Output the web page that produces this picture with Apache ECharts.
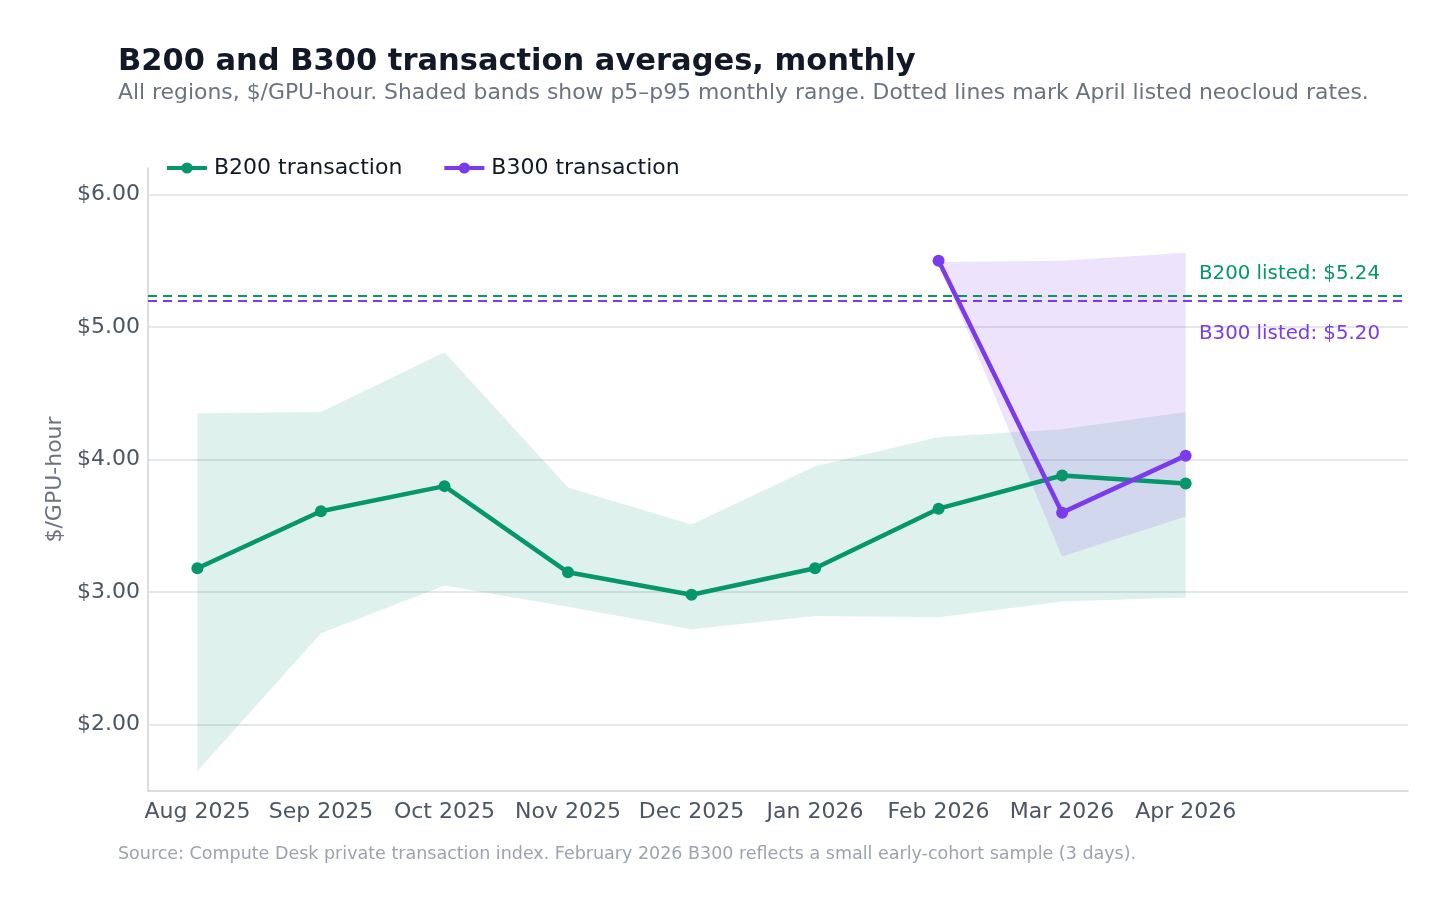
<!DOCTYPE html>
<html>
<head>
<meta charset="utf-8">
<script src="https://cdn.jsdelivr.net/npm/echarts@6/dist/echarts.min.js"></script>
<style>html,body{margin:0;padding:0;background:#fff;}#c{width:1456px;height:909px;}</style>
</head>
<body>
<div id="c"></div>
<script>
const months = ['Aug 2025','Sep 2025','Oct 2025','Nov 2025','Dec 2025','Jan 2026','Feb 2026','Mar 2026','Apr 2026'];
const b200Avg = [3.18, 3.61, 3.80, 3.15, 2.98, 3.18, 3.63, 3.88, 3.82];
const b200P5  = [1.65, 2.69, 3.05, 2.89, 2.72, 2.82, 2.81, 2.93, 2.96];
const b200P95 = [4.35, 4.36, 4.81, 3.79, 3.51, 3.95, 4.17, 4.23, 4.36];
const b300Idx = [6, 7, 8];
const b300Avg = [5.50, 3.60, 4.03];
const b300P5  = [5.49, 3.27, 3.57];
const b300P95 = [5.49, 5.50, 5.56];
const listedNames = ['B200 listed', 'B300 listed'];
const listedValues = [5.24, 5.20];
const yTicks = [2, 3, 4, 5, 6];

const GREEN = '#059669', PURPLE = '#7c3aed';
const FONT = 'DejaVu Sans';

function bandSeries(name, xs, lo, hi, fill) {
  const data = xs.map((x, i) => [x, lo[i], hi[i]]);
  return {
    type: 'custom', name: name, silent: true, z: 1,
    data: data,
    encode: { x: 0, y: [1, 2] },
    renderItem: function (params, api) {
      if (params.dataIndex !== 0) return null;
      const top = data.map(d => api.coord([d[0], d[2]]));
      const bot = data.map(d => api.coord([d[0], d[1]])).reverse();
      return { type: 'polygon', shape: { points: top.concat(bot) }, style: { fill: fill } };
    }
  };
}

const chart = echarts.init(document.getElementById('c'), null, { renderer: 'canvas' });
chart.setOption({
  animation: false,
  textStyle: { fontFamily: FONT },
  title: [
    { text: 'B200 and B300 transaction averages, monthly', left: 113, top: 39,
      textStyle: { fontFamily: FONT, fontSize: 30.5, fontWeight: 'bold', color: '#111827', lineHeight: 36 } },
    { text: 'All regions, $/GPU-hour. Shaded bands show p5\u2013p95 monthly range. Dotted lines mark April listed neocloud rates.',
      left: 113, top: 75, textStyle: { fontFamily: FONT, fontSize: 21.9, fontWeight: 'normal', color: '#6b7280', lineHeight: 26 } },
    { text: 'Source: Compute Desk private transaction index. February 2026 B300 reflects a small early-cohort sample (3 days).',
      left: 113, top: 839, textStyle: { fontFamily: FONT, fontSize: 17.5, fontWeight: 'normal', color: '#9ca3af', lineHeight: 21 } }
  ],
  legend: {
    left: 160, top: 152, itemWidth: 40, itemHeight: 14, itemGap: 40,
    data: ['B200 transaction', 'B300 transaction'],
    lineStyle: { width: 4 },
    textStyle: { fontFamily: FONT, fontSize: 22, color: '#111827', padding: [0, 0, 0, 2] }
  },
  grid: { left: 148, right: 48, top: 168, bottom: 118 },
  xAxis: {
    type: 'value', min: -0.4, max: 9.8,
    axisLine: { show: true, onZero: false, lineStyle: { color: '#cfd3d8', width: 1.5 } },
    axisTick: { show: false, customValues: months.map((m, i) => i) },
    splitLine: { show: false },
    axisLabel: {
      customValues: months.map((m, i) => i),
      formatter: v => months[Math.round(v)] || '',
      fontFamily: FONT, fontSize: 22, color: '#4b5563', margin: 10
    }
  },
  yAxis: {
    type: 'value', min: 1.5, max: 6.2,
    name: '$/GPU-hour', nameLocation: 'middle', nameRotate: 90, nameGap: 74,
    nameTextStyle: { fontFamily: FONT, fontSize: 22, color: '#6b7280' },
    axisLine: { show: true, onZero: false, lineStyle: { color: '#cfd3d8', width: 1.5 } },
    axisTick: { show: false, customValues: yTicks },
    splitLine: { show: true, lineStyle: { color: '#dde0e4', width: 1.5 } },
    axisLabel: {
      customValues: yTicks,
      formatter: v => '$' + v.toFixed(2),
      fontFamily: FONT, fontSize: 22, color: '#4b5563', margin: 8, padding: [5, 0, 0, 0]
    }
  },
  series: [
    bandSeries('B200 band', months.map((m, i) => i), b200P5, b200P95, 'rgba(5,150,105,0.13)'),
    bandSeries('B300 band', b300Idx, b300P5, b300P95, 'rgba(124,58,237,0.14)'),
    {
      name: 'B200 transaction', type: 'line', z: 3,
      data: months.map((m, i) => [i, b200Avg[i]]),
      symbol: 'circle', symbolSize: 12,
      lineStyle: { color: GREEN, width: 4.5 }, itemStyle: { color: GREEN },
      markLine: {
        silent: true, symbol: 'none', label: { show: false },
        lineStyle: { color: GREEN, width: 2, type: [9, 6] },
        data: [{ yAxis: listedValues[0] }]
      }
    },
    {
      name: 'B300 transaction', type: 'line', z: 4,
      data: b300Idx.map((x, i) => [x, b300Avg[i]]),
      symbol: 'circle', symbolSize: 12,
      lineStyle: { color: PURPLE, width: 4.5 }, itemStyle: { color: PURPLE },
      markLine: {
        silent: true, symbol: 'none', label: { show: false },
        lineStyle: { color: PURPLE, width: 2, type: [9, 6] },
        data: [{ yAxis: listedValues[1] }]
      }
    },
    {
      type: 'custom', name: 'listed labels', silent: true, z: 5,
      data: listedValues.map((v, i) => [8.1, v, i]),
      encode: { x: 0, y: 1 },
      renderItem: function (params, api) {
        const i = api.value(2);
        const p = api.coord([api.value(0), api.value(1)]);
        return {
          type: 'text',
          style: {
            x: p[0] + 1, y: p[1] + (i === 0 ? -21 : 33),
            text: listedNames[i] + ': $' + listedValues[i].toFixed(2),
            fill: i === 0 ? GREEN : PURPLE,
            font: '19.8px "' + FONT + '"',
            textAlign: 'left', textVerticalAlign: 'middle'
          }
        };
      }
    }
  ]
});
</script>
</body>
</html>
